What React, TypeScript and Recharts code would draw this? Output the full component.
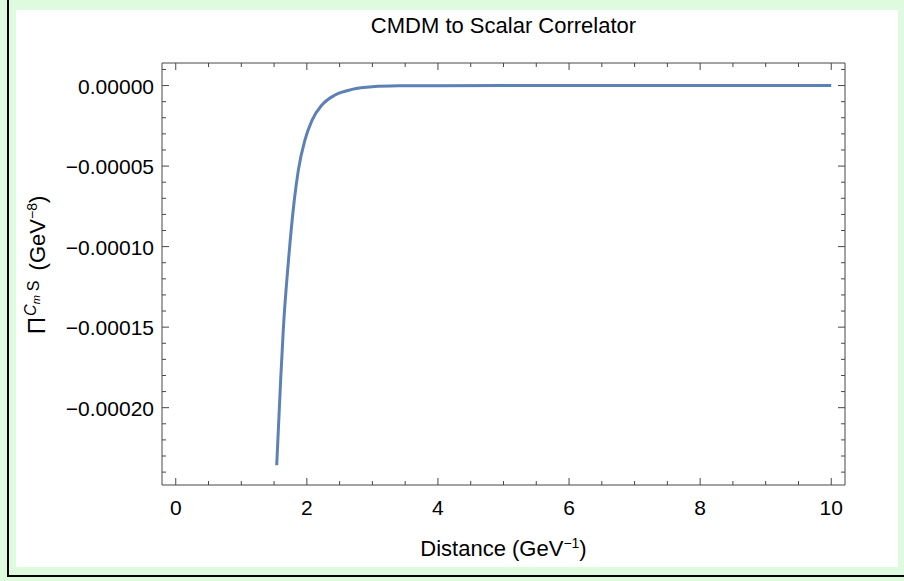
import React from 'react';
import { LineChart, Line, XAxis, YAxis } from 'recharts';

// Correlator curve sampled along the distance axis
const distance = [1.54, 1.6, 1.64, 1.72, 1.81, 1.87, 1.97, 2.08, 2.23, 2.43, 2.69, 3.0, 3.4, 4, 5, 6, 7, 8, 9, 10];
const correlator = [
  -2.357e-4, -1.83e-4, -1.519e-4, -1.084e-4, -7.06e-5, -5.25e-5, -3.39e-5, -2.14e-5,
  -1.21e-5, -5.9e-6, -2.4e-6, -7.5e-7, -2e-7, -5e-8, 0, 0, 0, 0, 0, 0,
];

// Tick positions
const xMajor = [0, 2, 4, 6, 8, 10];
const xTicks = [0, 0.5, 1, 1.5, 2, 2.5, 3, 3.5, 4, 4.5, 5, 5.5, 6, 6.5, 7, 7.5, 8, 8.5, 9, 9.5, 10];
const yMajor = [0, -0.00005, -0.0001, -0.00015, -0.0002];
const yMajorLabels = ['0.00000', '\u22120.00005', '\u22120.00010', '\u22120.00015', '\u22120.00020'];
const yTicks = [
  0.00001, 0, -0.00001, -0.00002, -0.00003, -0.00004, -0.00005, -0.00006, -0.00007, -0.00008,
  -0.00009, -0.0001, -0.00011, -0.00012, -0.00013, -0.00014, -0.00015, -0.00016, -0.00017,
  -0.00018, -0.00019, -0.0002, -0.00021, -0.00022, -0.00023, -0.00024,
];

const xDomain = [-0.21, 10.21];
const yDomain = [-0.000248, 0.000014];

const title = 'CMDM to Scalar Correlator';

const data = distance.map((x, i) => ({ x, y: correlator[i] }));

const AX = '#474747';
const FONT = '"Liberation Sans", Arial, Helvetica, sans-serif';
const FS = 21;
const LINE = '#5e81b5';

const near = (a: number, b: number) => Math.abs(a - b) < 1e-12;

function XTick(props: any) {
  const { x, y, payload, side } = props;
  const v = payload.value as number;
  const major = xMajor.some((m) => near(m, v));
  const len = major ? 7 : 4;
  const dir = side === 'bottom' ? -1 : 1;
  return (
    <g>
      <line x1={x} y1={y} x2={x} y2={y + dir * len} stroke={AX} strokeWidth={1} />
      {side === 'bottom' && major && (
        <text x={x} y={y + 30} textAnchor="middle" fontSize={FS} fontFamily={FONT} fill="#000">
          {String(v)}
        </text>
      )}
    </g>
  );
}

function YTick(props: any) {
  const { x, y, payload, side } = props;
  const v = payload.value as number;
  const idx = yMajor.findIndex((m) => near(m, v));
  const major = idx >= 0;
  const len = major ? 7 : 4;
  const dir = side === 'left' ? 1 : -1;
  return (
    <g>
      <line x1={x} y1={y} x2={x + dir * len} y2={y} stroke={AX} strokeWidth={1} />
      {side === 'left' && major && (
        <text x={x - 8} y={y + 8} textAnchor="end" fontSize={FS} fontFamily={FONT} fill="#000">
          {yMajorLabels[idx]}
        </text>
      )}
    </g>
  );
}

function TitleLabel(props: any) {
  const vb = props.viewBox || { x: 162, width: 683 };
  return (
    <text x={vb.x + vb.width / 2} y={33} textAnchor="middle" fontSize={22} fontFamily={FONT} fill="#000">
      {title}
    </text>
  );
}

function XTitle(props: any) {
  const vb = props.viewBox || { x: 162, width: 683 };
  return (
    <text x={vb.x + vb.width / 2} y={556} textAnchor="middle" fontSize={22} fontFamily={FONT} fill="#000">
      Distance (GeV
      <tspan dy={-8} fontSize={14}>{'\u22121'}</tspan>
      <tspan dy={8}>)</tspan>
    </text>
  );
}

function YTitle(props: any) {
  const vb = props.viewBox || { y: 63, height: 422 };
  const cy = vb.y + vb.height / 2 - 9;
  return (
    <text
      transform={`translate(45, ${cy}) rotate(-90)`}
      textAnchor="middle"
      fontSize={22}
      fontFamily={FONT}
      fill="#000"
    >
      <tspan fontSize={24}>{'\u03A0'}</tspan>
      <tspan dy={-9} dx={1} fontSize={16} fontStyle="italic">C</tspan>
      <tspan dy={4} fontSize={11} fontStyle="italic">m</tspan>
      <tspan dy={-1} dx={4} fontSize={16}>S</tspan>
      <tspan dy={6} dx={4}> (GeV</tspan>
      <tspan dy={-8} fontSize={14}>{'\u22128'}</tspan>
      <tspan dy={8}>)</tspan>
    </text>
  );
}

export default function App() {
  return (
    <div
      style={{
        position: 'absolute',
        left: 0,
        top: 0,
        width: 904,
        height: 581,
        background: '#dffbdf',
        overflow: 'hidden',
      }}
    >
      <div style={{ position: 'absolute', left: 16, top: 10, width: 882, height: 557, background: '#fff' }} />
      <div style={{ position: 'absolute', left: 7, top: 0, width: 2, height: 577, background: '#000' }} />
      <div style={{ position: 'absolute', left: 7, top: 575, width: 897, height: 2, background: '#000' }} />
      <div style={{ position: 'absolute', left: 0, top: 0 }}>
        <LineChart width={904} height={581} data={data} margin={{ top: 53, right: 49, bottom: 66, left: 102 }}>
          <XAxis
            xAxisId="b"
            dataKey="x"
            type="number"
            domain={xDomain}
            allowDataOverflow
            ticks={xTicks}
            interval={0}
            tickLine={false}
            tickSize={0}
            tickMargin={0}
            height={30}
            axisLine={{ stroke: AX, strokeWidth: 1 }}
            tick={(p: any) => <XTick {...p} side="bottom" />}
            label={<XTitle />}
          />
          <XAxis
            xAxisId="t"
            orientation="top"
            dataKey="x"
            type="number"
            domain={xDomain}
            allowDataOverflow
            ticks={xTicks}
            interval={0}
            tickLine={false}
            tickSize={0}
            tickMargin={0}
            height={10}
            axisLine={{ stroke: AX, strokeWidth: 1 }}
            tick={(p: any) => <XTick {...p} side="top" />}
            label={<TitleLabel />}
          />
          <YAxis
            yAxisId="l"
            type="number"
            domain={yDomain}
            allowDataOverflow
            ticks={yTicks}
            interval={0}
            tickLine={false}
            tickSize={0}
            tickMargin={0}
            width={60}
            axisLine={{ stroke: AX, strokeWidth: 1 }}
            tick={(p: any) => <YTick {...p} side="left" />}
            label={<YTitle />}
          />
          <YAxis
            yAxisId="r"
            orientation="right"
            type="number"
            domain={yDomain}
            allowDataOverflow
            ticks={yTicks}
            interval={0}
            tickLine={false}
            tickSize={0}
            tickMargin={0}
            width={10}
            axisLine={{ stroke: AX, strokeWidth: 1 }}
            tick={(p: any) => <YTick {...p} side="right" />}
          />
          <Line
            xAxisId="b"
            yAxisId="l"
            dataKey="y"
            type="monotone"
            stroke={LINE}
            strokeWidth={3}
            dot={false}
            isAnimationActive={false}
          />
        </LineChart>
      </div>
    </div>
  );
}
